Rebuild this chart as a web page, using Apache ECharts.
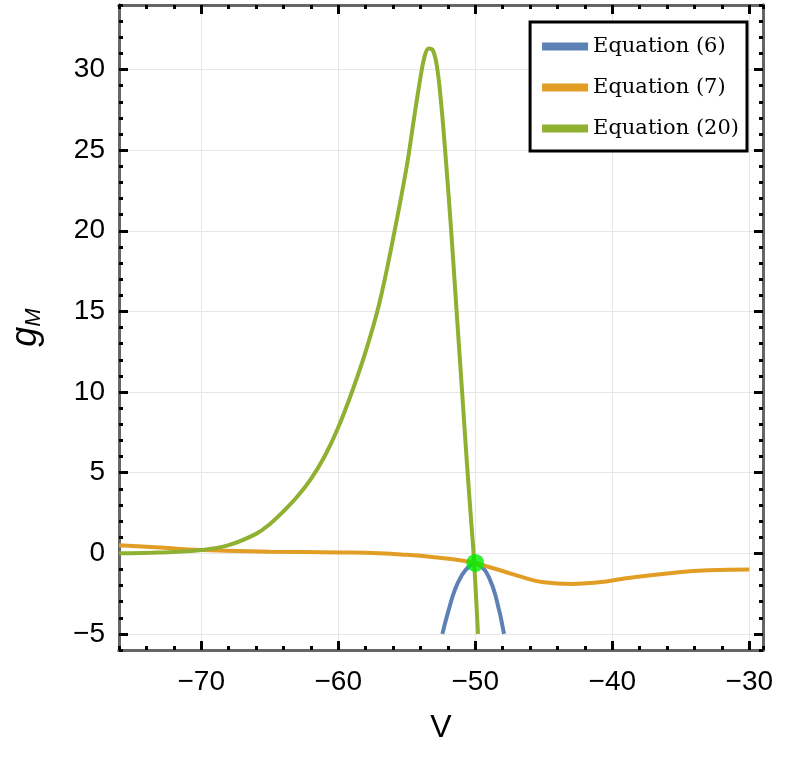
<!DOCTYPE html>
<html><head><meta charset="utf-8">
<script src="https://cdn.jsdelivr.net/npm/echarts@6/dist/echarts.min.js"></script>
<style>html,body{margin:0;background:#fff}#main{width:789px;height:769px}</style>
</head><body><div id="main"></div>
<script>
var myChart = echarts.init(document.getElementById('main'));

// Equation (6): local parabola near the crossing
var eq6 = [[-52.4,-5],[-52,-3.7],[-51.5,-2.3],[-51,-1.4],[-50.5,-0.85],[-50,-0.6],[-49.5,-0.85],[-49,-1.5],[-48.5,-2.7],[-47.9,-5]];
// Equation (7)
var eq7 = [[-76,0.5],[-73,0.35],[-70,0.2],[-65,0.1],[-60,0.05],[-57,0],[-55,-0.1],[-53,-0.25],[-51,-0.45],[-50,-0.62],[-49,-0.85],[-48,-1.1],[-46.5,-1.5],[-45,-1.8],[-43,-1.9],[-41,-1.8],[-39,-1.55],[-36,-1.25],[-33,-1.05],[-30,-1.0]];
// Equation (20)
var eq20 = [[-76,0],[-73,0.05],[-70,0.2],[-68,0.5],[-66,1.2],[-65,1.8],[-64,2.6],[-63,3.5],[-62,4.6],[-61,6],[-60,7.8],[-59,10],[-58,12.5],[-57,15.5],[-56,19.5],[-55,24],[-54.5,26.8],[-54,29.5],[-53.7,30.8],[-53.4,31.3],[-53.1,31.2],[-52.8,30.2],[-52.5,28],[-52.2,25],[-51.8,20.5],[-51.4,15.5],[-51,10.5],[-50.6,5.5],[-50.3,2],[-50.1,-0.3],[-49.8,-5]];
var crossing = [[-50,-0.6]];
var xMajor = [-70, -60, -50, -40, -30];
var yMajor = [-5, 0, 5, 10, 15, 20, 25, 30];

var XMIN = -76, XMAX = -29, YMIN = -6, YMAX = 34;
var frame = { show: true, onZero: false, lineStyle: { color: '#666', width: 3 } };
var dots = { show: true, inside: true, length: 4, lineStyle: { color: '#000', width: 3 } };
var fmt = function (v) { return v < 0 ? '\u2212' + (-v) : '' + v; };
var lab = { fontFamily: 'Liberation Sans', fontSize: 28, color: '#000' };

function xAx(pos, major, labels) {
  return {
    type: 'value', min: XMIN, max: XMAX, interval: 2, position: pos,
    axisLine: frame, splitLine: { show: false },
    axisTick: major ? Object.assign({}, dots, { length: 9, customValues: xMajor }) : dots,
    axisLabel: labels ? Object.assign({ customValues: xMajor, formatter: fmt, margin: 18 }, lab) : { show: false }
  };
}
function yAx(pos, major, labels) {
  return {
    type: 'value', min: YMIN, max: YMAX, interval: 1, position: pos,
    axisLine: frame, splitLine: { show: false },
    axisTick: major ? Object.assign({}, dots, { length: 9, customValues: yMajor }) : dots,
    axisLabel: labels ? Object.assign({ customValues: yMajor, formatter: fmt, margin: 14 }, lab) : { show: false }
  };
}

var xAxes = [xAx('bottom', true, true), xAx('bottom', false, false), xAx('top', true, false), xAx('top', false, false)];
xAxes[0].name = 'V'; xAxes[0].nameLocation = 'middle'; xAxes[0].nameGap = 62;
xAxes[0].nameTextStyle = { fontFamily: 'Liberation Sans', fontSize: 32, color: '#000' };
var yAxes = [yAx('left', true, true), yAx('left', false, false), yAx('right', true, false), yAx('right', false, false)];
yAxes[0].name = '{g|g}{s|M}'; yAxes[0].nameLocation = 'middle'; yAxes[0].nameGap = 74;
yAxes[0].nameTextStyle = { rich: {
  g: { fontFamily: 'Liberation Sans', fontStyle: 'italic', fontSize: 36, color: '#000' },
  s: { fontFamily: 'Liberation Sans', fontStyle: 'italic', fontSize: 22, color: '#000', verticalAlign: 'bottom', padding: [16, 0, 0, 0] }
} };

var gridLines = xMajor.map(function (v) { return { xAxis: v }; })
  .concat(yMajor.map(function (v) { return { yAxis: v }; }));

var option = {
  animation: false,
  grid: { left: 118, right: 26, top: 5, bottom: 119 },
  legend: {
    right: 42, top: 22, orient: 'vertical', itemGap: 20, padding: [14, 8, 12, 12],
    borderColor: '#000', borderWidth: 3, backgroundColor: '#fff',
    itemWidth: 46, itemHeight: 8, icon: 'rect',
    textStyle: { fontFamily: 'DejaVu Serif', fontSize: 21, color: '#000' },
    data: ['Equation (6)', 'Equation (7)', 'Equation (20)']
  },
  xAxis: xAxes,
  yAxis: yAxes,
  series: [
    { name: 'Equation (6)', type: 'line', data: eq6, smooth: true, showSymbol: false, color: '#5d81b4', lineStyle: { width: 4 } },
    { name: 'Equation (7)', type: 'line', data: eq7, smooth: true, showSymbol: false, color: '#e29d24', lineStyle: { width: 4 },
      markLine: { silent: true, symbol: 'none', label: { show: false }, animation: false, z: 0,
        lineStyle: { color: '#e6e6e6', width: 1, type: 'solid' }, data: gridLines } },
    { name: 'Equation (20)', type: 'line', data: eq20, smooth: 0.4, showSymbol: false, color: '#8fb031', lineStyle: { width: 4 } },
    { type: 'scatter', data: crossing, symbolSize: 18, itemStyle: { color: '#00ee00' }, z: 5 }
  ]
};
myChart.setOption(option);
</script></body></html>
